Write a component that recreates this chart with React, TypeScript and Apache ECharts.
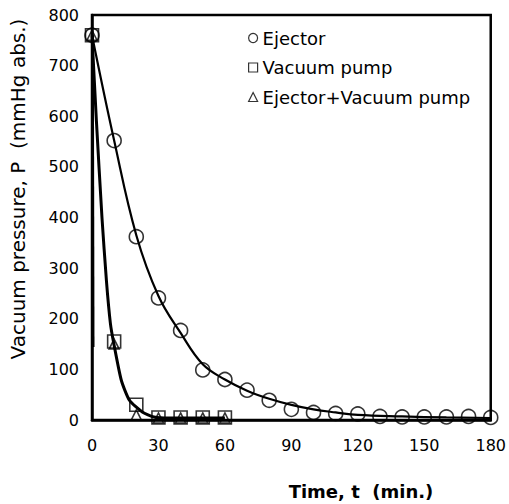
import React, { useEffect, useRef } from "react";
import * as echarts from "echarts";

// Measured points
const tEjector = [0, 10, 20, 30, 40, 50, 60, 70, 80, 90, 100, 110, 120, 130, 140, 150, 160, 170, 180];
const pEjector = [760, 552, 362, 241, 177, 99, 80, 59, 39, 21, 15, 13, 12, 7, 6, 6, 6, 7, 5];
const tPump = [0, 10, 20, 30, 40, 50, 60];
const pVacuumPump = [760, 155, 30, 5, 5, 5, 5];
const pEjectorPump = [760, 150, 10, 4, 4, 4, 4];

// Fitted curves
const tEjectorFit = [0, 10, 20, 30, 40, 50, 60, 70, 80, 90, 100, 110, 120, 140, 160, 180];
const pEjectorFit = [760, 552, 365, 245, 172, 110, 80, 58, 42, 30, 21, 15, 10, 7, 5, 4];
const tPumpFit = [0, 2, 4.5, 6.5, 8.3, 9.8, 13.2, 16.9, 22.7, 28, 35, 60];
const pPumpFit = [760, 590, 400, 276, 191, 152, 79, 39, 16, 6, 4, 4];
const tPumpFit2 = [0.2, 0.5];
const pPumpFit2 = [760, 144];

const xTicks = { min: 0, max: 180, interval: 30 };
const yTicks = { min: 0, max: 800, interval: 100 };

const legendNames = ["Ejector", "Vacuum pump", "Ejector+Vacuum pump"];
const xTitle = "Time, t  (min.)";
const yTitle = "Vacuum pressure, P  (mmHg abs.)";

const zip = (xs: number[], ys: number[]) => xs.map((x, i) => [x, ys[i]]);

export default function App() {
  const ref = useRef<HTMLDivElement>(null);
  useEffect(() => {
    if (!ref.current) return;
    const chart = echarts.init(ref.current, undefined, { renderer: "svg" });
    const font = "DejaVu Sans";
    const hollow = { color: "rgba(255,255,255,0)", borderColor: "#000", borderWidth: 1.6 };
    chart.setOption({
      animation: false,
      backgroundColor: "#fff",
      grid: { left: 92, right: 12, top: 15, bottom: 84, show: true, borderColor: "#000", borderWidth: 2.5 },
      xAxis: {
        type: "value",
        ...xTicks,
        axisLine: { show: true, lineStyle: { color: "#000", width: 2.5 } },
        axisTick: { show: false },
        splitLine: { show: false },
        axisLabel: { color: "#000", fontFamily: font, fontSize: 16, margin: 17 },
      },
      yAxis: {
        type: "value",
        ...yTicks,
        axisLine: { show: true, lineStyle: { color: "#000", width: 2.5 } },
        axisTick: { show: false },
        splitLine: { show: false },
        axisLabel: { color: "#000", fontFamily: font, fontSize: 16, margin: 13 },
      },
      legend: {
        data: [
          { name: legendNames[0], icon: "circle" },
          { name: legendNames[1], icon: "rect" },
          { name: legendNames[2], icon: "triangle" },
        ],
        orient: "vertical",
        left: 248,
        top: 28,
        padding: 0,
        itemGap: 9.5,
        itemWidth: 9,
        itemHeight: 9,
        itemStyle: { color: "rgba(255,255,255,0)", borderColor: "#000", borderWidth: 1.2 },
        textStyle: { color: "#000", fontFamily: font, fontSize: 18, lineHeight: 20 },
        selectedMode: false,
      },
      graphic: [
        {
          type: "text",
          x: 361,
          y: 491,
          style: { text: xTitle, font: `bold 18px "${font}"`, fill: "#000", align: "center", verticalAlign: "middle" },
        },
        {
          type: "text",
          x: 18,
          y: 189,
          rotation: Math.PI / 2,
          style: { text: yTitle, font: `20px "${font}"`, fill: "#000", align: "center", verticalAlign: "middle" },
        },
      ],
      series: [
        {
          name: "ejectorFit",
          type: "line",
          data: zip(tEjectorFit, pEjectorFit),
          smooth: 0.4,
          symbol: "none",
          silent: true,
          lineStyle: { color: "#000", width: 2.2 },
          z: 1,
        },
        {
          name: "pumpFit",
          type: "line",
          data: zip(tPumpFit, pPumpFit),
          smooth: 0.2,
          symbol: "none",
          silent: true,
          lineStyle: { color: "#000", width: 3 },
          z: 1,
        },
        {
          name: "pumpFit2",
          type: "line",
          data: zip(tPumpFit2, pPumpFit2),
          symbol: "none",
          silent: true,
          lineStyle: { color: "#000", width: 2.8 },
          z: 1,
        },
        {
          name: legendNames[0],
          type: "scatter",
          data: zip(tEjector, pEjector),
          symbol: "circle",
          symbolSize: 14,
          itemStyle: hollow,
          z: 3,
        },
        {
          name: legendNames[1],
          type: "scatter",
          data: zip(tPump, pVacuumPump),
          symbol: "rect",
          symbolSize: 13,
          itemStyle: hollow,
          z: 3,
        },
        {
          name: legendNames[2],
          type: "scatter",
          data: zip(tPump, pEjectorPump),
          symbol: "triangle",
          symbolSize: 10,
          itemStyle: hollow,
          z: 4,
        },
      ],
    });
    return () => chart.dispose();
  }, []);
  return <div ref={ref} style={{ width: 509, height: 504, position: "absolute", left: 0, top: 0 }} />;
}
